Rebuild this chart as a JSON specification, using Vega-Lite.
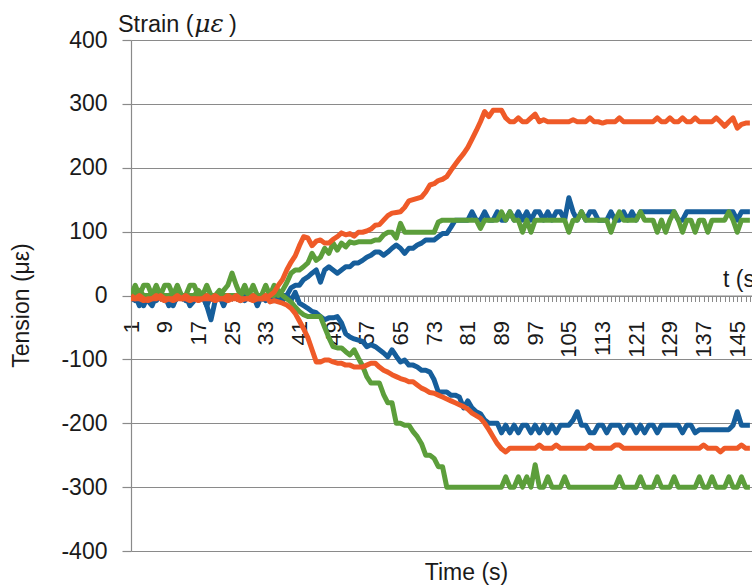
{
  "$schema": "https://vega.github.io/schema/vega-lite/v6.json",
  "width": 621,
  "height": 511,
  "autosize": {"type": "none"},
  "padding": {"left": 131, "top": 40, "right": 0, "bottom": 35},
  "background": "white",
  "config": {"view": {"stroke": null}, "font": "Liberation Sans"},
  "layer": [
    {
      "data": {"values": [
        {"t":1,"Bp":0,"Bn":-8,"Gp":0,"Gn":0,"Op":-5,"On":0},
        {"t":2,"Bp":-8,"Bn":0,"Gp":16,"Gn":0,"Op":-5,"On":-5},
        {"t":3,"Bp":0,"Bn":-16,"Gp":0,"Gn":8,"Op":0,"On":-5},
        {"t":4,"Bp":-16,"Bn":0,"Gp":16,"Gn":0,"Op":-5,"On":-8},
        {"t":5,"Bp":0,"Bn":-8,"Gp":16,"Gn":0,"Op":-8,"On":-5},
        {"t":6,"Bp":0,"Bn":-16,"Gp":0,"Gn":0,"Op":-5,"On":-5},
        {"t":7,"Bp":-8,"Bn":0,"Gp":16,"Gn":8,"Op":0,"On":-5},
        {"t":8,"Bp":0,"Bn":0,"Gp":0,"Gn":0,"Op":-5,"On":0},
        {"t":9,"Bp":0,"Bn":-8,"Gp":16,"Gn":0,"Op":-8,"On":-5},
        {"t":10,"Bp":-16,"Bn":0,"Gp":16,"Gn":0,"Op":-5,"On":-5},
        {"t":11,"Bp":0,"Bn":-16,"Gp":0,"Gn":0,"Op":-5,"On":-8},
        {"t":12,"Bp":0,"Bn":0,"Gp":16,"Gn":8,"Op":0,"On":-5},
        {"t":13,"Bp":0,"Bn":0,"Gp":0,"Gn":0,"Op":-5,"On":-5},
        {"t":14,"Bp":-8,"Bn":0,"Gp":0,"Gn":0,"Op":-5,"On":0},
        {"t":15,"Bp":0,"Bn":-16,"Gp":16,"Gn":0,"Op":-8,"On":-5},
        {"t":16,"Bp":0,"Bn":-8,"Gp":16,"Gn":0,"Op":-5,"On":-5},
        {"t":17,"Bp":0,"Bn":0,"Gp":0,"Gn":8,"Op":-5,"On":-8},
        {"t":18,"Bp":0,"Bn":0,"Gp":0,"Gn":0,"Op":-5,"On":-5},
        {"t":19,"Bp":-16,"Bn":-16,"Gp":16,"Gn":0,"Op":0,"On":-5},
        {"t":20,"Bp":0,"Bn":-38,"Gp":0,"Gn":0,"Op":-5,"On":-5},
        {"t":21,"Bp":0,"Bn":-8,"Gp":0,"Gn":0,"Op":-8,"On":0},
        {"t":22,"Bp":0,"Bn":0,"Gp":0,"Gn":8,"Op":-5,"On":-5},
        {"t":23,"Bp":-8,"Bn":-16,"Gp":8,"Gn":0,"Op":-5,"On":-5},
        {"t":24,"Bp":0,"Bn":0,"Gp":16,"Gn":0,"Op":0,"On":-8},
        {"t":25,"Bp":0,"Bn":0,"Gp":35,"Gn":0,"Op":-5,"On":-5},
        {"t":26,"Bp":0,"Bn":0,"Gp":16,"Gn":0,"Op":-5,"On":0},
        {"t":27,"Bp":0,"Bn":-8,"Gp":0,"Gn":0,"Op":-8,"On":-5},
        {"t":28,"Bp":-8,"Bn":0,"Gp":16,"Gn":8,"Op":-5,"On":-5},
        {"t":29,"Bp":0,"Bn":0,"Gp":0,"Gn":0,"Op":-5,"On":-5},
        {"t":30,"Bp":0,"Bn":0,"Gp":16,"Gn":0,"Op":0,"On":-8},
        {"t":31,"Bp":0,"Bn":-16,"Gp":0,"Gn":0,"Op":-5,"On":-5},
        {"t":32,"Bp":0,"Bn":0,"Gp":0,"Gn":0,"Op":-5,"On":-5},
        {"t":33,"Bp":-8,"Bn":0,"Gp":16,"Gn":0,"Op":-5,"On":0},
        {"t":34,"Bp":0,"Bn":0,"Gp":0,"Gn":0,"Op":0,"On":-10},
        {"t":35,"Bp":0,"Bn":-8,"Gp":16,"Gn":0,"Op":5,"On":-8},
        {"t":36,"Bp":-8,"Bn":0,"Gp":0,"Gn":8,"Op":16,"On":-10},
        {"t":37,"Bp":0,"Bn":-8,"Gp":8,"Gn":0,"Op":25,"On":-12},
        {"t":38,"Bp":0,"Bn":0,"Gp":20,"Gn":-5,"Op":40,"On":-15},
        {"t":39,"Bp":12,"Bn":-8,"Gp":35,"Gn":-10,"Op":52,"On":-20},
        {"t":40,"Bp":16,"Bn":5,"Gp":40,"Gn":-18,"Op":62,"On":-28},
        {"t":41,"Bp":16,"Bn":-12,"Gp":40,"Gn":-25,"Op":78,"On":-40},
        {"t":42,"Bp":25,"Bn":-16,"Gp":45,"Gn":-30,"Op":92,"On":-52},
        {"t":43,"Bp":29,"Bn":-20,"Gp":51,"Gn":-33,"Op":90,"On":-66},
        {"t":44,"Bp":35,"Bn":-25,"Gp":66,"Gn":-33,"Op":78,"On":-85},
        {"t":45,"Bp":40,"Bn":-27,"Gp":55,"Gn":-33,"Op":85,"On":-104},
        {"t":46,"Bp":21,"Bn":-33,"Gp":60,"Gn":-33,"Op":87,"On":-104},
        {"t":47,"Bp":40,"Bn":-38,"Gp":74,"Gn":-50,"Op":82,"On":-101},
        {"t":48,"Bp":45,"Bn":-35,"Gp":66,"Gn":-66,"Op":82,"On":-101},
        {"t":49,"Bp":40,"Bn":-35,"Gp":82,"Gn":-80,"Op":88,"On":-104},
        {"t":50,"Bp":35,"Bn":-33,"Gp":71,"Gn":-82,"Op":92,"On":-106},
        {"t":51,"Bp":40,"Bn":-43,"Gp":82,"Gn":-82,"Op":98,"On":-106},
        {"t":52,"Bp":45,"Bn":-60,"Gp":76,"Gn":-88,"Op":95,"On":-109},
        {"t":53,"Bp":45,"Bn":-65,"Gp":84,"Gn":-93,"Op":97,"On":-109},
        {"t":54,"Bp":51,"Bn":-68,"Gp":82,"Gn":-85,"Op":93,"On":-112},
        {"t":55,"Bp":51,"Bn":-70,"Gp":84,"Gn":-98,"Op":99,"On":-112},
        {"t":56,"Bp":55,"Bn":-72,"Gp":84,"Gn":-110,"Op":99,"On":-112},
        {"t":57,"Bp":60,"Bn":-80,"Gp":84,"Gn":-127,"Op":101,"On":-109},
        {"t":58,"Bp":63,"Bn":-77,"Gp":84,"Gn":-137,"Op":104,"On":-106},
        {"t":59,"Bp":68,"Bn":-80,"Gp":87,"Gn":-137,"Op":110,"On":-106},
        {"t":60,"Bp":68,"Bn":-85,"Gp":87,"Gn":-137,"Op":111,"On":-112},
        {"t":61,"Bp":63,"Bn":-90,"Gp":95,"Gn":-155,"Op":118,"On":-117},
        {"t":62,"Bp":68,"Bn":-96,"Gp":99,"Gn":-168,"Op":125,"On":-120},
        {"t":63,"Bp":74,"Bn":-85,"Gp":99,"Gn":-168,"Op":129,"On":-124},
        {"t":64,"Bp":79,"Bn":-95,"Gp":90,"Gn":-200,"Op":130,"On":-127},
        {"t":65,"Bp":74,"Bn":-104,"Gp":113,"Gn":-200,"Op":131,"On":-130},
        {"t":66,"Bp":66,"Bn":-101,"Gp":99,"Gn":-203,"Op":138,"On":-132},
        {"t":67,"Bp":74,"Bn":-109,"Gp":99,"Gn":-203,"Op":148,"On":-135},
        {"t":68,"Bp":74,"Bn":-109,"Gp":99,"Gn":-213,"Op":150,"On":-135},
        {"t":69,"Bp":79,"Bn":-112,"Gp":99,"Gn":-221,"Op":152,"On":-140},
        {"t":70,"Bp":82,"Bn":-117,"Gp":99,"Gn":-232,"Op":154,"On":-145},
        {"t":71,"Bp":87,"Bn":-117,"Gp":99,"Gn":-250,"Op":162,"On":-148},
        {"t":72,"Bp":87,"Bn":-120,"Gp":99,"Gn":-250,"Op":173,"On":-152},
        {"t":73,"Bp":87,"Bn":-132,"Gp":99,"Gn":-255,"Op":175,"On":-153},
        {"t":74,"Bp":92,"Bn":-151,"Gp":115,"Gn":-268,"Op":180,"On":-156},
        {"t":75,"Bp":97,"Bn":-151,"Gp":118,"Gn":-268,"Op":182,"On":-159},
        {"t":76,"Bp":97,"Bn":-151,"Gp":118,"Gn":-300,"Op":186,"On":-162},
        {"t":77,"Bp":107,"Bn":-156,"Gp":118,"Gn":-300,"Op":196,"On":-165},
        {"t":78,"Bp":118,"Bn":-156,"Gp":118,"Gn":-300,"Op":205,"On":-168},
        {"t":79,"Bp":118,"Bn":-159,"Gp":118,"Gn":-300,"Op":214,"On":-171},
        {"t":80,"Bp":118,"Bn":-176,"Gp":118,"Gn":-300,"Op":222,"On":-174},
        {"t":81,"Bp":118,"Bn":-165,"Gp":118,"Gn":-300,"Op":232,"On":-178},
        {"t":82,"Bp":131,"Bn":-176,"Gp":118,"Gn":-300,"Op":245,"On":-184},
        {"t":83,"Bp":118,"Bn":-182,"Gp":118,"Gn":-300,"Op":258,"On":-188},
        {"t":84,"Bp":118,"Bn":-185,"Gp":105,"Gn":-300,"Op":272,"On":-192},
        {"t":85,"Bp":131,"Bn":-195,"Gp":118,"Gn":-300,"Op":288,"On":-200},
        {"t":86,"Bp":118,"Bn":-200,"Gp":118,"Gn":-300,"Op":280,"On":-210},
        {"t":87,"Bp":118,"Bn":-200,"Gp":118,"Gn":-300,"Op":290,"On":-221},
        {"t":88,"Bp":131,"Bn":-200,"Gp":118,"Gn":-300,"Op":290,"On":-232},
        {"t":89,"Bp":118,"Bn":-215,"Gp":131,"Gn":-300,"Op":290,"On":-240},
        {"t":90,"Bp":118,"Bn":-203,"Gp":118,"Gn":-284,"Op":278,"On":-245},
        {"t":91,"Bp":131,"Bn":-215,"Gp":131,"Gn":-300,"Op":272,"On":-239},
        {"t":92,"Bp":118,"Bn":-203,"Gp":118,"Gn":-300,"Op":272,"On":-239},
        {"t":93,"Bp":131,"Bn":-215,"Gp":118,"Gn":-284,"Op":278,"On":-239},
        {"t":94,"Bp":118,"Bn":-203,"Gp":99,"Gn":-300,"Op":272,"On":-239},
        {"t":95,"Bp":131,"Bn":-203,"Gp":118,"Gn":-284,"Op":272,"On":-239},
        {"t":96,"Bp":118,"Bn":-215,"Gp":99,"Gn":-300,"Op":278,"On":-239},
        {"t":97,"Bp":131,"Bn":-203,"Gp":118,"Gn":-265,"Op":284,"On":-239},
        {"t":98,"Bp":131,"Bn":-215,"Gp":118,"Gn":-300,"Op":272,"On":-234},
        {"t":99,"Bp":118,"Bn":-203,"Gp":118,"Gn":-300,"Op":275,"On":-239},
        {"t":100,"Bp":131,"Bn":-215,"Gp":118,"Gn":-284,"Op":272,"On":-239},
        {"t":101,"Bp":118,"Bn":-203,"Gp":118,"Gn":-300,"Op":272,"On":-239},
        {"t":102,"Bp":131,"Bn":-215,"Gp":118,"Gn":-300,"Op":272,"On":-234},
        {"t":103,"Bp":131,"Bn":-203,"Gp":118,"Gn":-300,"Op":272,"On":-239},
        {"t":104,"Bp":118,"Bn":-203,"Gp":118,"Gn":-284,"Op":272,"On":-239},
        {"t":105,"Bp":153,"Bn":-203,"Gp":99,"Gn":-300,"Op":272,"On":-239},
        {"t":106,"Bp":131,"Bn":-195,"Gp":118,"Gn":-300,"Op":275,"On":-239},
        {"t":107,"Bp":118,"Bn":-182,"Gp":118,"Gn":-300,"Op":272,"On":-239},
        {"t":108,"Bp":131,"Bn":-203,"Gp":131,"Gn":-300,"Op":272,"On":-239},
        {"t":109,"Bp":118,"Bn":-203,"Gp":118,"Gn":-300,"Op":272,"On":-239},
        {"t":110,"Bp":131,"Bn":-215,"Gp":118,"Gn":-300,"Op":278,"On":-234},
        {"t":111,"Bp":131,"Bn":-215,"Gp":118,"Gn":-300,"Op":272,"On":-239},
        {"t":112,"Bp":118,"Bn":-203,"Gp":118,"Gn":-300,"Op":272,"On":-239},
        {"t":113,"Bp":118,"Bn":-203,"Gp":118,"Gn":-300,"Op":270,"On":-239},
        {"t":114,"Bp":118,"Bn":-215,"Gp":118,"Gn":-300,"Op":272,"On":-239},
        {"t":115,"Bp":131,"Bn":-203,"Gp":99,"Gn":-300,"Op":272,"On":-239},
        {"t":116,"Bp":118,"Bn":-203,"Gp":118,"Gn":-300,"Op":272,"On":-234},
        {"t":117,"Bp":118,"Bn":-203,"Gp":131,"Gn":-284,"Op":278,"On":-234},
        {"t":118,"Bp":131,"Bn":-215,"Gp":118,"Gn":-300,"Op":272,"On":-239},
        {"t":119,"Bp":118,"Bn":-203,"Gp":118,"Gn":-300,"Op":272,"On":-239},
        {"t":120,"Bp":131,"Bn":-203,"Gp":118,"Gn":-300,"Op":272,"On":-239},
        {"t":121,"Bp":118,"Bn":-215,"Gp":118,"Gn":-300,"Op":272,"On":-239},
        {"t":122,"Bp":131,"Bn":-203,"Gp":131,"Gn":-284,"Op":272,"On":-239},
        {"t":123,"Bp":131,"Bn":-215,"Gp":118,"Gn":-300,"Op":272,"On":-239},
        {"t":124,"Bp":131,"Bn":-203,"Gp":118,"Gn":-300,"Op":272,"On":-239},
        {"t":125,"Bp":131,"Bn":-203,"Gp":118,"Gn":-300,"Op":272,"On":-239},
        {"t":126,"Bp":131,"Bn":-215,"Gp":99,"Gn":-284,"Op":278,"On":-239},
        {"t":127,"Bp":131,"Bn":-203,"Gp":118,"Gn":-300,"Op":272,"On":-239},
        {"t":128,"Bp":131,"Bn":-203,"Gp":99,"Gn":-300,"Op":272,"On":-239},
        {"t":129,"Bp":131,"Bn":-203,"Gp":118,"Gn":-300,"Op":278,"On":-239},
        {"t":130,"Bp":131,"Bn":-203,"Gp":131,"Gn":-284,"Op":272,"On":-239},
        {"t":131,"Bp":118,"Bn":-203,"Gp":118,"Gn":-300,"Op":272,"On":-239},
        {"t":132,"Bp":118,"Bn":-215,"Gp":99,"Gn":-300,"Op":278,"On":-239},
        {"t":133,"Bp":131,"Bn":-203,"Gp":118,"Gn":-300,"Op":272,"On":-239},
        {"t":134,"Bp":131,"Bn":-203,"Gp":118,"Gn":-300,"Op":272,"On":-239},
        {"t":135,"Bp":131,"Bn":-215,"Gp":99,"Gn":-300,"Op":278,"On":-239},
        {"t":136,"Bp":131,"Bn":-210,"Gp":118,"Gn":-284,"Op":272,"On":-239},
        {"t":137,"Bp":131,"Bn":-210,"Gp":118,"Gn":-300,"Op":272,"On":-234},
        {"t":138,"Bp":131,"Bn":-210,"Gp":99,"Gn":-300,"Op":272,"On":-239},
        {"t":139,"Bp":131,"Bn":-210,"Gp":118,"Gn":-284,"Op":272,"On":-239},
        {"t":140,"Bp":131,"Bn":-210,"Gp":118,"Gn":-300,"Op":278,"On":-239},
        {"t":141,"Bp":131,"Bn":-210,"Gp":118,"Gn":-300,"Op":272,"On":-245},
        {"t":142,"Bp":131,"Bn":-210,"Gp":118,"Gn":-300,"Op":265,"On":-239},
        {"t":143,"Bp":131,"Bn":-210,"Gp":131,"Gn":-284,"Op":272,"On":-239},
        {"t":144,"Bp":131,"Bn":-203,"Gp":118,"Gn":-300,"Op":278,"On":-239},
        {"t":145,"Bp":118,"Bn":-182,"Gp":99,"Gn":-300,"Op":262,"On":-239},
        {"t":146,"Bp":131,"Bn":-203,"Gp":118,"Gn":-284,"Op":268,"On":-234},
        {"t":147,"Bp":131,"Bn":-203,"Gp":118,"Gn":-300,"Op":270,"On":-239},
        {"t":148,"Bp":131,"Bn":-203,"Gp":118,"Gn":-300,"Op":270,"On":-239}
      ]},
      "transform": [{"fold": ["Bn", "Bp", "Gn", "Gp", "On", "Op"], "as": ["series", "strain"]}],
      "mark": {"type": "line", "strokeWidth": 5, "strokeJoin": "round", "clip": true},
      "encoding": {
        "x": {
          "field": "t", "type": "quantitative",
          "scale": {"domain": [1, 148.5], "nice": false, "zero": false},
          "axis": {
            "offset": -255.5,
            "tickCount": 148,
            "labelExpr": "(datum.value - 1) % 8 == 0 ? datum.label : ''",
            "labelAngle": -90,
            "labelFontSize": 22,
            "labelColor": "#1a1a1a",
            "labelPadding": 19,
            "labelOverlap": false,
            "labelFlush": false,
            "labelBound": false,
            "tickSize": 6,
            "tickColor": "#8a8a8a",
            "domainColor": "#8a8a8a",
            "domainWidth": 1.2,
            "grid": false,
            "title": "Time (s)",
            "titleFontSize": 23,
            "titleFontWeight": "normal",
            "titleColor": "#1a1a1a",
            "titleX": 335,
            "titleY": 277,
            "titleAlign": "center",
            "titleBaseline": "middle"
          }
        },
        "y": {
          "field": "strain", "type": "quantitative",
          "scale": {"domain": [-400, 400], "nice": false},
          "axis": {
            "values": [-400, -300, -200, -100, 0, 100, 200, 300, 400],
            "labelExpr": "'' + datum.value",
            "grid": true,
            "gridColor": "#8a8a8a",
            "gridWidth": 1.2,
            "domainColor": "#8a8a8a",
            "domainWidth": 1.2,
            "tickColor": "#8a8a8a",
            "tickWidth": 1.2,
            "tickSize": 9,
            "labelPadding": 15,
            "labelFontSize": 23,
            "labelColor": "#1a1a1a",
            "title": "Tension (με)",
            "titleFontSize": 23,
            "titleFontWeight": "normal",
            "titleColor": "#1a1a1a",
            "titleX": -110,
            "titleY": 265,
            "titleAngle": -90,
            "titleAlign": "center",
            "titleBaseline": "middle"
          }
        },
        "color": {
          "field": "series", "type": "nominal",
          "scale": {
            "domain": ["Bn", "Bp", "Gn", "Gp", "On", "Op"],
            "range": ["#165e9b", "#165e9b", "#5c9e3b", "#5c9e3b", "#ef5a28", "#ef5a28"]
          },
          "legend": null
        }
      }
    },
    {
      "data": {"values": [{}]},
      "mark": {"type": "text", "align": "left", "baseline": "alphabetic", "fontSize": 23.5, "color": "#1a1a1a"},
      "encoding": {
        "x": {"datum": -2.1, "type": "quantitative"},
        "y": {"datum": 412.5, "type": "quantitative"},
        "text": {"value": "Strain ("}
      }
    },
    {
      "data": {"values": [{}]},
      "mark": {"type": "text", "align": "left", "baseline": "alphabetic", "fontSize": 25, "font": "DejaVu Serif", "fontStyle": "italic", "color": "#1a1a1a"},
      "encoding": {
        "x": {"datum": 16.0, "type": "quantitative"},
        "y": {"datum": 412.5, "type": "quantitative"},
        "text": {"value": "με"}
      }
    },
    {
      "data": {"values": [{}]},
      "mark": {"type": "text", "align": "left", "baseline": "alphabetic", "fontSize": 23.5, "color": "#1a1a1a"},
      "encoding": {
        "x": {"datum": 24.3, "type": "quantitative"},
        "y": {"datum": 412.5, "type": "quantitative"},
        "text": {"value": ")"}
      }
    },
    {
      "data": {"values": [{}]},
      "mark": {"type": "text", "align": "left", "baseline": "alphabetic", "fontSize": 23, "color": "#1a1a1a"},
      "encoding": {
        "x": {"datum": 141.6, "type": "quantitative"},
        "y": {"datum": 14, "type": "quantitative"},
        "text": {"value": "t (s)"}
      }
    }
  ]
}
